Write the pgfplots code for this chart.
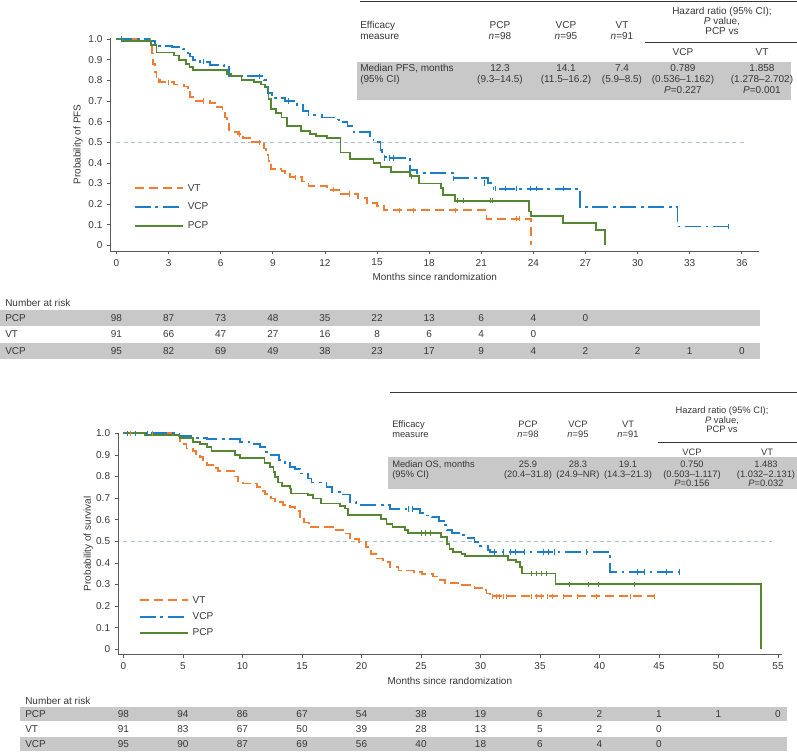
\documentclass[border=0pt]{standalone}
\usepackage{fontspec}
\setmainfont{Liberation Sans}
\usepackage{pgfplots}
\pgfplotsset{compat=1.18}
\definecolor{cVT}{RGB}{240,125,50}
\definecolor{cVCP}{RGB}{30,125,200}
\definecolor{cPCP}{RGB}{85,135,50}
\definecolor{band}{RGB}{200,200,200}
\definecolor{txt}{RGB}{55,55,55}
\definecolor{refl}{RGB}{175,190,205}
\definecolor{axc}{RGB}{90,90,90}
\newcommand{\fs}{\fontsize{7.5}{9}\selectfont}
\newcommand{\fsb}{\fontsize{7}{8.4}\selectfont}
\pgfplotsset{
 km/.style={
  scale only axis, axis lines=left, axis line style={-, axc, line width=0.6pt},
  tick align=outside, tick style={axc, line width=0.6pt}, major tick length=2.5pt,
  tick label style={font=\fs, text=txt},
  label style={font=\fs, text=txt},
  /pgf/number format/assume math mode=true,
  clip=false,
  ytick={0,0.1,0.2,0.3,0.4,0.5,0.6,0.7,0.8,0.9,1.0},
  yticklabels={0,0.1,0.2,0.3,0.4,0.5,0.6,0.7,0.8,0.9,1.0},
  legend style={draw=none, fill=none, font=\fs, text=txt, inner sep=0pt, outer sep=0pt,
    nodes={inner sep=1pt, text height=5.5pt, text depth=1.5pt}, column sep=1.5pt},
  legend cell align=left,
  legend image code/.code={\draw[##1, line width=1.5pt] (0pt,0pt) -- (36.5pt,0pt);},
 },
 vt/.style={cVT, line width=1.35pt, dash pattern=on 7pt off 3.5pt, const plot},
 vcp/.style={cVCP, line width=1.35pt, dash pattern=on 12pt off 3.5pt on 2pt off 3.5pt, const plot},
 pcp/.style={cPCP, line width=1.35pt, solid, const plot},
 cens/.style={only marks, mark=|, mark size=2pt, mark options={solid, line width=0.6pt}, forget plot},
}
\begin{document}
\begin{tikzpicture}
\useasboundingbox (0,0) rectangle (597.75pt,-564pt);
% ---------------- PFS ----------------
\begin{axis}[km, at={(82.8pt,-188.3pt)}, anchor=south west, width=486.6pt, height=159.8pt,
  xmin=-0.35, xmax=37, ymin=-0.027, ymax=1.005, xtick={0,3,...,36},
  ylabel={Probability of PFS}, xlabel={Months since randomization},
  ylabel style={at={(axis description cs:-0.05,0.5)}, anchor=center},
  xlabel style={at={(axis description cs:0.5,-0.1215)}, anchor=center},
  legend style={at={(rel axis cs:0.036,0.322)}, anchor=north west, row sep=4.9pt}]
\addplot[refl, line width=0.8pt, dash pattern=on 3pt off 2.5pt, forget plot] coordinates {(0,0.5) (36.3,0.5)};
\addplot[vt] coordinates {(0,1.0)(1.95,0.97)(2.05,0.93)(2.1,0.88)(2.2,0.84)(2.3,0.80)(2.5,0.79)(3.3,0.78)(3.9,0.77)(4.1,0.75)(4.25,0.72)(4.4,0.70)(5.4,0.69)(5.8,0.67)(6.1,0.65)(6.25,0.62)(6.35,0.59)(6.5,0.55)(7.0,0.54)(7.3,0.52)(7.7,0.50)(8.5,0.47)(8.6,0.44)(8.75,0.41)(8.9,0.37)(9.5,0.36)(9.7,0.35)(10.0,0.33)(10.7,0.31)(11.05,0.29)(12.1,0.27)(12.8,0.25)(13.9,0.23)(14.4,0.205)(15.0,0.19)(15.4,0.17)(21.3,0.13)(23.85,0.0)};
\addlegendentry{VT}
\addplot[vcp] coordinates {(0,1.0)(1.85,0.99)(2.2,0.965)(3.2,0.96)(3.85,0.95)(4.1,0.93)(4.25,0.915)(4.4,0.90)(4.8,0.89)(5.4,0.876)(6.2,0.87)(6.5,0.82)(8.5,0.80)(8.6,0.77)(8.7,0.74)(8.95,0.714)(9.7,0.70)(10.2,0.69)(10.4,0.68)(10.75,0.65)(11.05,0.633)(11.85,0.62)(12.5,0.61)(12.8,0.60)(13.3,0.577)(13.65,0.548)(14.6,0.528)(14.8,0.50)(15.2,0.464)(15.3,0.431)(15.5,0.424)(16.9,0.367)(17.3,0.35)(19.4,0.326)(21.4,0.302)(21.7,0.275)(26.7,0.186)(32.3,0.092)(35.2,0.092)};
\addlegendentry{VCP}
\addplot[pcp] coordinates {(0,1.0)(0.3,0.99)(2.0,0.97)(2.3,0.935)(3.3,0.92)(3.6,0.90)(4.0,0.88)(4.2,0.865)(4.4,0.85)(6.35,0.83)(6.6,0.82)(7.2,0.80)(7.9,0.79)(8.3,0.78)(8.55,0.765)(8.75,0.71)(8.9,0.66)(9.2,0.64)(9.5,0.62)(9.8,0.58)(10.6,0.555)(11.15,0.54)(11.5,0.53)(12.1,0.52)(12.9,0.45)(13.45,0.42)(14.8,0.40)(15.2,0.38)(15.8,0.355)(16.9,0.335)(17.4,0.30)(18.7,0.28)(18.8,0.245)(19.5,0.217)(23.75,0.165)(23.85,0.141)(25.7,0.108)(27.6,0.076)(28.1,0.0)};
\addlegendentry{PCP}
\addplot[cens, cVT] coordinates {(2.4,0.80)(3.0,0.79)(5.0,0.70)(7.1,0.54)(8.2,0.50)(10.3,0.33)(12.5,0.27)(13.4,0.25)(16.3,0.17)(17.1,0.17)(19.5,0.17)(23.0,0.13)(23.2,0.13)};
\addplot[cens, cVCP] coordinates {(0.3,1.0)(5.0,0.89)(8.2,0.82)(9.9,0.70)(15.4,0.424)(15.7,0.424)(15.95,0.424)(19.4,0.326)(21.2,0.302)(21.8,0.275)(22.4,0.275)(23.0,0.275)(23.8,0.275)(24.2,0.275)(25.7,0.275)(35.2,0.092)};
\addplot[cens, cPCP] coordinates {(17.0,0.335)(19.6,0.217)(20.0,0.217)(21.5,0.217)(21.65,0.217)};
\end{axis}
% ---------------- OS ----------------
\begin{axis}[km, at={(88.6pt,-490.7pt)}, anchor=south west, width=497.6pt, height=165.7pt,
  xmin=-0.45, xmax=55.3, ymin=-0.023, ymax=1.0, xtick={0,5,...,55},
  ylabel={Probability of survival}, xlabel={Months since randomization},
  ylabel style={at={(axis description cs:-0.045,0.5)}, anchor=center},
  xlabel style={at={(axis description cs:0.5,-0.121)}, anchor=center},
  legend style={at={(rel axis cs:0.031,0.271)}, anchor=north west, row sep=3.2pt}]
\addplot[refl, line width=0.8pt, dash pattern=on 3pt off 2.5pt, forget plot] coordinates {(0,0.5) (54.5,0.5)};
\addplot[vt] coordinates {(0,1.0)(4.65,0.985)(4.75,0.95)(5.3,0.93)(5.85,0.92)(6.1,0.905)(6.4,0.89)(6.7,0.872)(7.0,0.853)(7.5,0.84)(7.95,0.825)(9.3,0.80)(9.6,0.78)(10.05,0.768)(11.2,0.752)(11.5,0.732)(11.9,0.718)(12.4,0.698)(12.7,0.683)(13.4,0.67)(14.0,0.659)(14.4,0.639)(14.8,0.613)(15.2,0.587)(15.6,0.567)(17.6,0.551)(18.7,0.536)(19.0,0.512)(19.8,0.497)(20.4,0.474)(20.8,0.443)(21.2,0.42)(21.8,0.404)(22.4,0.381)(23.1,0.365)(24.4,0.358)(25.1,0.35)(26.0,0.337)(26.6,0.322)(27.0,0.307)(28.3,0.296)(29.5,0.285)(30.1,0.276)(30.5,0.258)(30.8,0.246)(44.6,0.246)};
\addlegendentry{VT}
\addplot[vcp] coordinates {(0,1.0)(4.7,0.989)(5.7,0.98)(7.0,0.972)(9.8,0.961)(10.75,0.95)(11.5,0.938)(12.0,0.915)(12.4,0.899)(13.1,0.876)(13.55,0.861)(14.0,0.845)(14.4,0.834)(14.8,0.814)(15.5,0.791)(15.8,0.772)(17.05,0.752)(17.5,0.729)(18.2,0.717)(19.0,0.683)(19.55,0.67)(22.4,0.65)(24.9,0.631)(25.3,0.62)(25.9,0.612)(26.5,0.594)(26.9,0.574)(27.2,0.554)(27.6,0.539)(28.3,0.528)(28.7,0.515)(29.5,0.497)(29.8,0.477)(30.6,0.461)(30.8,0.451)(40.9,0.358)(46.7,0.358)};
\addlegendentry{VCP}
\addplot[pcp] coordinates {(0,1.0)(1.8,0.992)(4.7,0.977)(5.85,0.961)(6.4,0.949)(7.0,0.938)(7.4,0.918)(9.35,0.899)(9.8,0.887)(11.85,0.861)(12.3,0.845)(12.6,0.822)(12.7,0.799)(13.0,0.772)(13.3,0.757)(14.0,0.745)(14.1,0.721)(15.5,0.714)(15.9,0.698)(16.6,0.675)(18.2,0.664)(18.6,0.652)(18.85,0.621)(21.65,0.605)(22.1,0.582)(22.6,0.567)(23.65,0.551)(23.9,0.539)(26.7,0.52)(27.2,0.489)(27.4,0.466)(27.7,0.451)(28.4,0.443)(28.7,0.431)(32.3,0.415)(33.0,0.404)(33.3,0.381)(33.5,0.351)(36.3,0.301)(53.6,0.0)};
\addlegendentry{PCP}
\addplot[cens, cVT] coordinates {(0.55,1.0)(2.4,1.0)(31.0,0.246)(31.3,0.246)(31.6,0.246)(31.9,0.246)(32.2,0.246)(34.3,0.246)(34.7,0.246)(35.1,0.246)(35.6,0.246)(36.0,0.246)(37.0,0.246)(38.1,0.246)(39.7,0.246)(42.6,0.246)(44.6,0.246)};
\addplot[cens, cVCP] coordinates {(0.3,1.0)(1.0,1.0)(2.0,1.0)(23.9,0.65)(24.3,0.65)(31.2,0.451)(31.9,0.451)(32.5,0.451)(32.9,0.451)(33.7,0.451)(35.3,0.451)(35.7,0.451)(36.2,0.451)(38.9,0.451)(43.2,0.358)(43.8,0.358)(45.6,0.358)(46.7,0.358)};
\addplot[cens, cPCP] coordinates {(25.0,0.539)(25.4,0.539)(25.8,0.539)(34.3,0.351)(34.7,0.351)(35.1,0.351)(35.5,0.351)(37.5,0.301)(39.1,0.301)(39.9,0.301)(42.9,0.301)};
\end{axis}
% ---------------- tables ----------------
\begin{scope}[x=0.75pt,y=-0.75pt, every node/.style={font=\fs, text=txt, inner sep=0pt, anchor=base, yshift=-2.7pt}]
 % top efficacy table
 \fill[band] (357,62) rectangle (791,100);
 \draw[txt, line width=0.6pt] (360,1) -- (797,1);
 \draw[txt, line width=0.6pt] (645,42) -- (797,42);
 \node[anchor=base west] at (360,25) {Efficacy};
 \node[anchor=base west] at (360,36) {measure};
 \node at (500,25) {PCP}; \node at (500,36) {\textit{n}=98};
 \node at (566,25) {VCP}; \node at (566,36) {\textit{n}=95};
 \node at (622,25) {VT}; \node at (622,36) {\textit{n}=91};
 \node at (722,11) {Hazard ratio (95\% CI);};
 \node at (722,21) {\textit{P} value,};
 \node at (722,31) {PCP vs};
 \node at (683,52) {VCP}; \node at (762,52) {VT};
 \node[anchor=base west] at (360,68) {Median PFS, months};
 \node[anchor=base west] at (360,79) {(95\% CI)};
 \node at (500,68) {12.3}; \node at (500,79) {(9.3–14.5)};
 \node at (566,68) {14.1}; \node at (566,79) {(11.5–16.2)};
 \node at (622,68) {7.4}; \node at (622,79) {(5.9–8.5)};
 \node at (683,68) {0.789}; \node at (683,79) {(0.536–1.162)}; \node at (683,90) {\textit{P}=0.227};
 \node at (762,68) {1.858}; \node at (762,79) {(1.278–2.702)}; \node at (762,90) {\textit{P}=0.001};
 % top risk table
 \fill[band] (0,310) rectangle (760,326);
 \fill[band] (0,343) rectangle (760,359);
 \node[anchor=base west] at (5,303) {Number at risk};
 \node[anchor=base west] at (5,318) {PCP};
 \node[anchor=base west] at (5,334) {VT};
 \node[anchor=base west] at (5,351) {VCP};
 \foreach \v [count=\i from 0] in {98,87,73,48,35,22,13,6,4,0} \node at ({116.5+52.11*\i},318) {\v};
 \foreach \v [count=\i from 0] in {91,66,47,27,16,8,6,4,0} \node at ({116.5+52.11*\i},334) {\v};
 \foreach \v [count=\i from 0] in {95,82,69,49,38,23,17,9,4,2,2,1,0} \node at ({116.5+52.11*\i},351) {\v};
 % bottom efficacy table
 \fill[band] (388,457) rectangle (797,489);
 \draw[txt, line width=0.6pt] (390,392) -- (797,392);
 \draw[txt, line width=0.6pt] (658,442) -- (797,442);
 \begin{scope}[every node/.append style={font=\fsb}]
 \node[anchor=base west] at (392,424) {Efficacy};
 \node[anchor=base west] at (392,434) {measure};
 \node at (528,424) {PCP}; \node at (528,434) {\textit{n}=98};
 \node at (578,424) {VCP}; \node at (578,434) {\textit{n}=95};
 \node at (628,424) {VT}; \node at (628,434) {\textit{n}=91};
 \node at (722,410) {Hazard ratio (95\% CI);};
 \node at (722,419.5) {\textit{P} value,};
 \node at (722,429) {PCP vs};
 \node at (692,452) {VCP}; \node at (767,452) {VT};
 \node[anchor=base west] at (392,464) {Median OS, months};
 \node[anchor=base west] at (392,473.5) {(95\% CI)};
 \node at (528,464) {25.9}; \node at (528,473.5) {(20.4–31.8)};
 \node at (578,464) {28.3}; \node at (578,473.5) {(24.9–NR)};
 \node at (628,464) {19.1}; \node at (628,473.5) {(14.3–21.3)};
 \node at (692,464) {0.750}; \node at (692,473.5) {(0.503–1.117)}; \node at (692,483) {\textit{P}=0.156};
 \node at (766,464) {1.483}; \node at (766,473.5) {(1.032–2.131)}; \node at (766,483) {\textit{P}=0.032};
 \end{scope}
 % bottom risk table
 \fill[band] (20,707) rectangle (787,721);
 \fill[band] (20,737) rectangle (787,751);
 \node[anchor=base west] at (25,700.5) {Number at risk};
 \node[anchor=base west] at (25,714) {PCP};
 \node[anchor=base west] at (25,729) {VT};
 \node[anchor=base west] at (25,744) {VCP};
 \foreach \v [count=\i from 0] in {98,94,86,67,54,38,19,6,2,1,1,0} \node at ({123.5+59.5*\i},714) {\v};
 \foreach \v [count=\i from 0] in {91,83,67,50,39,28,13,5,2,0} \node at ({123.5+59.5*\i},729) {\v};
 \foreach \v [count=\i from 0] in {95,90,87,69,56,40,18,6,4,0} \node at ({123.5+59.5*\i},744) {\v};
\end{scope}
\end{tikzpicture}
\end{document}
